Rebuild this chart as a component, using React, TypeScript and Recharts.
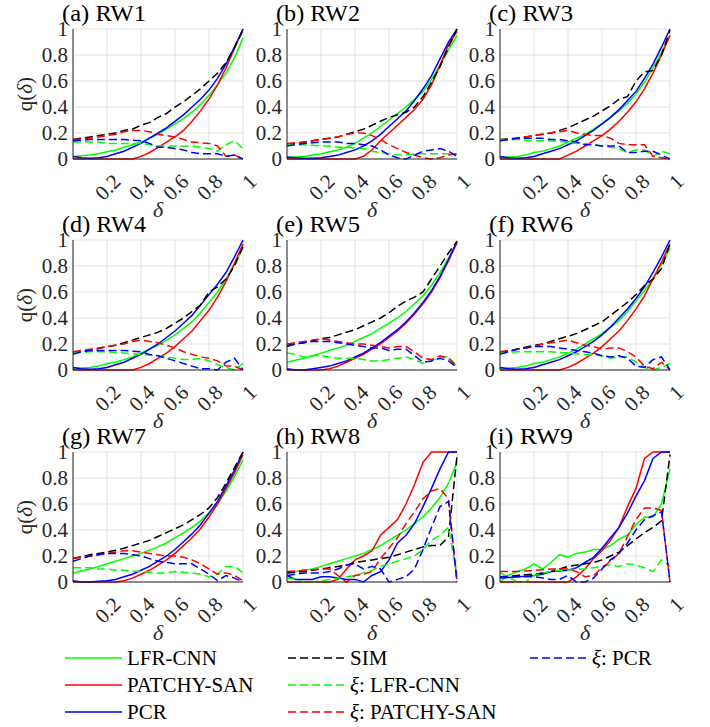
import React from 'react';
import { LineChart, Line, XAxis, YAxis, CartesianGrid } from 'recharts';

const DELTA = [0, 0.05, 0.1, 0.15, 0.2, 0.25, 0.3, 0.35, 0.4, 0.45, 0.5, 0.55, 0.6, 0.65, 0.7, 0.75, 0.8, 0.85, 0.9, 0.95, 1];
const X_TICKS = [0.2, 0.4, 0.6, 0.8, 1];
const Y_TICKS = [0, 0.2, 0.4, 0.6, 0.8, 1];
const PANEL_TITLES = ['(a) RW1', '(b) RW2', '(c) RW3', '(d) RW4', '(e) RW5', '(f) RW6', '(g) RW7', '(h) RW8', '(i) RW9'];

// ---- RW1 ----
const rw1Lfr = [0.02, 0.025, 0.03, 0.04, 0.055, 0.07, 0.09, 0.11, 0.13, 0.16, 0.19, 0.23, 0.27, 0.31, 0.36, 0.42, 0.49, 0.57, 0.66, 0.78, 0.93];
const rw1Patchy = [0, 0, 0, 0, 0, 0, 0, 0, 0.02, 0.05, 0.09, 0.13, 0.17, 0.22, 0.29, 0.37, 0.46, 0.57, 0.7, 0.85, 1.0];
const rw1Pcr = [0.02, 0.01, 0.005, 0.01, 0.02, 0.04, 0.06, 0.09, 0.12, 0.16, 0.2, 0.24, 0.29, 0.34, 0.4, 0.46, 0.53, 0.62, 0.73, 0.86, 1.0];
const rw1Sim = [0.15, 0.16, 0.17, 0.18, 0.19, 0.2, 0.22, 0.23, 0.26, 0.28, 0.32, 0.35, 0.4, 0.44, 0.49, 0.54, 0.6, 0.66, 0.74, 0.86, 0.99];
const rw1XiLfr = [0.13, 0.13, 0.13, 0.13, 0.12, 0.12, 0.12, 0.12, 0.12, 0.11, 0.1, 0.1, 0.1, 0.1, 0.1, 0.09, 0.08, 0.06, 0.11, 0.14, 0.08];
const rw1XiPatchy = [0.15, 0.155, 0.16, 0.17, 0.18, 0.19, 0.21, 0.22, 0.22, 0.21, 0.19, 0.18, 0.17, 0.15, 0.13, 0.125, 0.12, 0.1, 0.02, 0.03, 0.0];
const rw1XiPcr = [0.14, 0.145, 0.15, 0.15, 0.15, 0.15, 0.15, 0.145, 0.14, 0.12, 0.09, 0.09, 0.08, 0.07, 0.05, 0.04, 0.04, 0.04, 0.02, 0.03, 0.0];

// ---- RW2 ----
const rw2Lfr = [0.01, 0.015, 0.02, 0.03, 0.04, 0.055, 0.07, 0.09, 0.12, 0.16, 0.2, 0.25, 0.3, 0.35, 0.4, 0.46, 0.52, 0.61, 0.72, 0.84, 0.95];
const rw2Patchy = [0, 0, 0, 0, 0, 0, 0, 0, 0, 0.02, 0.07, 0.14, 0.2, 0.26, 0.32, 0.38, 0.46, 0.57, 0.72, 0.88, 0.98];
const rw2Pcr = [0.015, 0.01, 0.005, 0.005, 0.01, 0.02, 0.03, 0.05, 0.07, 0.1, 0.14, 0.19, 0.25, 0.31, 0.37, 0.45, 0.54, 0.64, 0.77, 0.9, 1.0];
const rw2Sim = [0.11, 0.12, 0.13, 0.14, 0.15, 0.16, 0.17, 0.19, 0.21, 0.23, 0.26, 0.29, 0.32, 0.34, 0.36, 0.4, 0.48, 0.59, 0.71, 0.86, 1.0];
const rw2XiLfr = [0.11, 0.11, 0.11, 0.105, 0.1, 0.1, 0.09, 0.09, 0.085, 0.08, 0.06, 0.05, 0.04, 0.03, 0.03, 0.04, 0.04, 0.04, 0.04, 0.04, 0.04];
const rw2XiPatchy = [0.12, 0.125, 0.13, 0.14, 0.15, 0.16, 0.17, 0.19, 0.2, 0.2, 0.18, 0.15, 0.11, 0.08, 0.05, 0.03, 0.01, 0.0, 0.01, 0.03, 0.04];
const rw2XiPcr = [0.1, 0.11, 0.12, 0.125, 0.13, 0.13, 0.13, 0.12, 0.12, 0.11, 0.1, 0.07, 0.03, 0.01, 0.0, 0.03, 0.06, 0.07, 0.08, 0.06, 0.02];

// ---- RW3 ----
const rw3Lfr = [0.01, 0.015, 0.02, 0.03, 0.05, 0.06, 0.08, 0.1, 0.13, 0.16, 0.19, 0.23, 0.27, 0.32, 0.37, 0.43, 0.5, 0.59, 0.7, 0.82, 0.95];
const rw3Patchy = [0, 0, 0, 0, 0, 0, 0, 0, 0.03, 0.06, 0.1, 0.14, 0.18, 0.23, 0.29, 0.36, 0.44, 0.54, 0.66, 0.8, 0.95];
const rw3Pcr = [0.02, 0.01, 0.005, 0.01, 0.02, 0.04, 0.06, 0.08, 0.11, 0.14, 0.18, 0.22, 0.27, 0.32, 0.38, 0.45, 0.52, 0.62, 0.73, 0.86, 1.0];
const rw3Sim = [0.15, 0.155, 0.16, 0.17, 0.18, 0.19, 0.2, 0.22, 0.24, 0.27, 0.3, 0.33, 0.37, 0.41, 0.46, 0.48, 0.6, 0.67, 0.68, 0.8, 0.99];
const rw3XiLfr = [0.15, 0.15, 0.15, 0.145, 0.14, 0.14, 0.14, 0.135, 0.13, 0.12, 0.12, 0.11, 0.1, 0.09, 0.08, 0.05, 0.07, 0.07, 0.02, 0.06, 0.04];
const rw3XiPatchy = [0.14, 0.15, 0.16, 0.17, 0.18, 0.19, 0.2, 0.21, 0.22, 0.2, 0.19, 0.18, 0.18, 0.16, 0.12, 0.11, 0.11, 0.11, 0.02, 0.01, 0.0];
const rw3XiPcr = [0.14, 0.15, 0.16, 0.16, 0.16, 0.16, 0.15, 0.15, 0.14, 0.13, 0.11, 0.11, 0.1, 0.1, 0.1, 0.05, 0.05, 0.06, 0.06, 0.03, 0.0];

// ---- RW4 ----
const rw4Lfr = [0.01, 0.015, 0.02, 0.03, 0.05, 0.06, 0.08, 0.1, 0.13, 0.16, 0.19, 0.23, 0.27, 0.32, 0.37, 0.44, 0.52, 0.6, 0.7, 0.81, 0.94];
const rw4Patchy = [0, 0, 0, 0, 0, 0, 0, 0, 0.02, 0.05, 0.09, 0.13, 0.18, 0.24, 0.3, 0.38, 0.46, 0.56, 0.68, 0.82, 0.97];
const rw4Pcr = [0.02, 0.01, 0.005, 0.01, 0.02, 0.04, 0.06, 0.09, 0.12, 0.16, 0.2, 0.25, 0.3, 0.36, 0.42, 0.5, 0.58, 0.66, 0.75, 0.87, 1.0];
const rw4Sim = [0.13, 0.14, 0.15, 0.165, 0.18, 0.19, 0.21, 0.23, 0.25, 0.27, 0.29, 0.32, 0.36, 0.4, 0.45, 0.5, 0.6, 0.64, 0.7, 0.8, 0.95];
const rw4XiLfr = [0.13, 0.135, 0.14, 0.14, 0.14, 0.135, 0.13, 0.125, 0.12, 0.115, 0.11, 0.1, 0.09, 0.08, 0.08, 0.09, 0.07, 0.04, 0.02, 0.0, 0.05];
const rw4XiPatchy = [0.14, 0.15, 0.16, 0.17, 0.18, 0.19, 0.2, 0.22, 0.23, 0.22, 0.21, 0.19, 0.17, 0.14, 0.12, 0.1, 0.09, 0.07, 0.03, 0.03, 0.0];
const rw4XiPcr = [0.12, 0.14, 0.15, 0.15, 0.15, 0.15, 0.15, 0.145, 0.14, 0.12, 0.11, 0.09, 0.07, 0.05, 0.03, 0.01, 0.01, 0.0, 0.06, 0.09, 0.0];

// ---- RW5 ----
const rw5Lfr = [0.06, 0.075, 0.09, 0.11, 0.13, 0.15, 0.17, 0.19, 0.22, 0.25, 0.28, 0.32, 0.36, 0.4, 0.45, 0.51, 0.57, 0.65, 0.75, 0.86, 0.98];
const rw5Patchy = [0, 0, 0, 0, 0, 0.01, 0.03, 0.06, 0.09, 0.12, 0.16, 0.2, 0.25, 0.3, 0.36, 0.43, 0.51, 0.6, 0.71, 0.84, 0.98];
const rw5Pcr = [0.01, 0.0, 0.0, 0.01, 0.02, 0.03, 0.05, 0.07, 0.1, 0.13, 0.17, 0.21, 0.26, 0.31, 0.37, 0.44, 0.52, 0.61, 0.72, 0.85, 0.99];
const rw5Sim = [0.19, 0.2, 0.21, 0.225, 0.24, 0.25, 0.27, 0.29, 0.31, 0.34, 0.37, 0.4, 0.44, 0.49, 0.53, 0.56, 0.6, 0.7, 0.8, 0.9, 0.99];
const rw5XiLfr = [0.13, 0.12, 0.1, 0.11, 0.11, 0.1, 0.09, 0.09, 0.09, 0.08, 0.07, 0.07, 0.08, 0.09, 0.1, 0.08, 0.05, 0.07, 0.1, 0.1, 0.03];
const rw5XiPatchy = [0.2, 0.21, 0.22, 0.23, 0.24, 0.23, 0.22, 0.21, 0.2, 0.2, 0.19, 0.18, 0.17, 0.18, 0.18, 0.14, 0.09, 0.08, 0.11, 0.09, 0.03];
const rw5XiPcr = [0.18, 0.2, 0.21, 0.22, 0.22, 0.22, 0.21, 0.2, 0.19, 0.18, 0.17, 0.17, 0.15, 0.16, 0.16, 0.11, 0.06, 0.07, 0.09, 0.07, 0.02];

// ---- RW6 ----
const rw6Lfr = [0.01, 0.015, 0.02, 0.03, 0.05, 0.06, 0.08, 0.1, 0.13, 0.16, 0.2, 0.24, 0.28, 0.33, 0.38, 0.45, 0.53, 0.61, 0.7, 0.81, 0.94];
const rw6Patchy = [0, 0, 0, 0, 0, 0, 0, 0, 0.02, 0.05, 0.09, 0.13, 0.18, 0.24, 0.3, 0.38, 0.47, 0.57, 0.7, 0.83, 0.97];
const rw6Pcr = [0.02, 0.01, 0.005, 0.01, 0.02, 0.04, 0.06, 0.08, 0.11, 0.14, 0.18, 0.22, 0.27, 0.33, 0.4, 0.47, 0.55, 0.64, 0.75, 0.87, 1.0];
const rw6Sim = [0.13, 0.145, 0.16, 0.175, 0.19, 0.2, 0.22, 0.24, 0.26, 0.28, 0.31, 0.34, 0.37, 0.42, 0.47, 0.52, 0.58, 0.65, 0.7, 0.78, 0.97];
const rw6XiLfr = [0.13, 0.135, 0.14, 0.14, 0.14, 0.14, 0.14, 0.135, 0.13, 0.125, 0.12, 0.115, 0.11, 0.09, 0.1, 0.1, 0.06, 0.02, 0.0, 0.02, 0.05];
const rw6XiPatchy = [0.14, 0.15, 0.16, 0.17, 0.18, 0.2, 0.21, 0.22, 0.23, 0.21, 0.19, 0.18, 0.16, 0.17, 0.17, 0.14, 0.1, 0.03, 0.01, 0.06, 0.0];
const rw6XiPcr = [0.12, 0.14, 0.16, 0.17, 0.18, 0.18, 0.18, 0.17, 0.16, 0.15, 0.14, 0.13, 0.11, 0.1, 0.11, 0.09, 0.03, 0.02, 0.08, 0.1, 0.0];

// ---- RW7 ----
const rw7Lfr = [0.07, 0.085, 0.1, 0.12, 0.14, 0.16, 0.18, 0.2, 0.22, 0.245, 0.27, 0.3, 0.34, 0.38, 0.42, 0.47, 0.53, 0.6, 0.7, 0.81, 0.94];
const rw7Patchy = [0, 0, 0, 0, 0, 0, 0.01, 0.03, 0.06, 0.09, 0.13, 0.17, 0.22, 0.28, 0.34, 0.41, 0.5, 0.6, 0.72, 0.84, 0.98];
const rw7Pcr = [0.01, 0.0, 0.0, 0.005, 0.01, 0.02, 0.04, 0.06, 0.09, 0.12, 0.16, 0.2, 0.25, 0.31, 0.37, 0.44, 0.53, 0.62, 0.74, 0.86, 1.0];
const rw7Sim = [0.18, 0.195, 0.21, 0.22, 0.23, 0.245, 0.26, 0.28, 0.3, 0.32, 0.35, 0.38, 0.41, 0.44, 0.48, 0.52, 0.57, 0.65, 0.76, 0.88, 1.0];
const rw7XiLfr = [0.11, 0.11, 0.11, 0.1, 0.1, 0.09, 0.09, 0.085, 0.08, 0.075, 0.07, 0.07, 0.08, 0.075, 0.07, 0.06, 0.04, 0.06, 0.12, 0.12, 0.07];
const rw7XiPatchy = [0.18, 0.19, 0.2, 0.21, 0.22, 0.23, 0.24, 0.24, 0.23, 0.22, 0.21, 0.2, 0.2, 0.19, 0.17, 0.14, 0.1, 0.06, 0.07, 0.05, 0.01];
const rw7XiPcr = [0.16, 0.18, 0.2, 0.21, 0.22, 0.22, 0.22, 0.21, 0.2, 0.18, 0.16, 0.15, 0.14, 0.14, 0.14, 0.1, 0.06, 0.01, 0.05, 0.03, 0.0];

// ---- RW8 ----
const rw8Lfr = [0.07, 0.08, 0.09, 0.1, 0.12, 0.14, 0.16, 0.18, 0.2, 0.22, 0.25, 0.28, 0.32, 0.36, 0.4, 0.45, 0.5, 0.57, 0.65, 0.76, 0.92];
const rw8Patchy = [0, 0, 0, 0, 0, 0, 0.02, 0.1, 0.17, 0.2, 0.24, 0.36, 0.42, 0.48, 0.6, 0.75, 0.92, 1.0, 1.0, 1.0, 1.0];
const rw8Pcr = [0.05, 0.02, 0.02, 0.02, 0.04, 0.04, 0.03, 0.02, 0.02, 0.0, 0.05, 0.08, 0.17, 0.3, 0.36, 0.45, 0.58, 0.72, 0.87, 1.0, 1.0];
const rw8Sim = [0.07, 0.075, 0.08, 0.09, 0.1, 0.11, 0.12, 0.13, 0.15, 0.16, 0.17, 0.18, 0.19, 0.21, 0.23, 0.25, 0.27, 0.28, 0.28, 0.35, 0.97];
const rw8XiLfr = [0.03, 0.02, 0.0, 0.0, 0.01, 0.02, 0.03, 0.04, 0.05, 0.07, 0.09, 0.12, 0.14, 0.16, 0.18, 0.2, 0.25, 0.32, 0.36, 0.42, 0.05];
const rw8XiPatchy = [0.08, 0.085, 0.09, 0.095, 0.1, 0.1, 0.05, 0.0, 0.05, 0.06, 0.08, 0.18, 0.26, 0.34, 0.45, 0.54, 0.64, 0.7, 0.72, 0.64, 0.0];
const rw8XiPcr = [0.05, 0.06, 0.07, 0.07, 0.07, 0.08, 0.1, 0.13, 0.14, 0.1, 0.12, 0.1, 0.0, 0.02, 0.04, 0.1, 0.25, 0.42, 0.58, 0.62, 0.0];

// ---- RW9 ----
const rw9Lfr = [0.0, 0.05, 0.08, 0.1, 0.14, 0.1, 0.15, 0.21, 0.19, 0.22, 0.23, 0.25, 0.25, 0.28, 0.33, 0.36, 0.44, 0.5, 0.5, 0.6, 0.87];
const rw9Patchy = [0, 0, 0, 0, 0, 0, 0, 0, 0, 0.04, 0.1, 0.18, 0.24, 0.32, 0.42, 0.58, 0.72, 0.95, 1.0, 1.0, 1.0];
const rw9Pcr = [0.03, 0.035, 0.04, 0.045, 0.05, 0.06, 0.08, 0.085, 0.09, 0.11, 0.15, 0.19, 0.26, 0.34, 0.42, 0.53, 0.66, 0.78, 0.95, 1.0, 1.0];
const rw9Sim = [0.04, 0.045, 0.05, 0.055, 0.06, 0.07, 0.08, 0.1, 0.12, 0.13, 0.14, 0.15, 0.17, 0.2, 0.23, 0.28, 0.33, 0.38, 0.42, 0.47, 0.98];
const rw9XiLfr = [0.07, 0.04, 0.0, 0.0, 0.05, 0.07, 0.08, 0.09, 0.09, 0.1, 0.1, 0.11, 0.12, 0.13, 0.12, 0.14, 0.13, 0.11, 0.08, 0.17, 0.12];
const rw9XiPatchy = [0.08, 0.08, 0.08, 0.085, 0.09, 0.095, 0.1, 0.1, 0.1, 0.08, 0.04, 0.05, 0.11, 0.16, 0.22, 0.35, 0.48, 0.57, 0.57, 0.55, 0.0];
const rw9XiPcr = [0.04, 0.04, 0.04, 0.04, 0.04, 0.03, 0.02, 0.02, 0.05, 0.0, 0.0, 0.03, 0.1, 0.17, 0.22, 0.3, 0.4, 0.48, 0.51, 0.54, 0.0];

const PANELS = [
  [rw1Lfr, rw1Patchy, rw1Pcr, rw1Sim, rw1XiLfr, rw1XiPatchy, rw1XiPcr],
  [rw2Lfr, rw2Patchy, rw2Pcr, rw2Sim, rw2XiLfr, rw2XiPatchy, rw2XiPcr],
  [rw3Lfr, rw3Patchy, rw3Pcr, rw3Sim, rw3XiLfr, rw3XiPatchy, rw3XiPcr],
  [rw4Lfr, rw4Patchy, rw4Pcr, rw4Sim, rw4XiLfr, rw4XiPatchy, rw4XiPcr],
  [rw5Lfr, rw5Patchy, rw5Pcr, rw5Sim, rw5XiLfr, rw5XiPatchy, rw5XiPcr],
  [rw6Lfr, rw6Patchy, rw6Pcr, rw6Sim, rw6XiLfr, rw6XiPatchy, rw6XiPcr],
  [rw7Lfr, rw7Patchy, rw7Pcr, rw7Sim, rw7XiLfr, rw7XiPatchy, rw7XiPcr],
  [rw8Lfr, rw8Patchy, rw8Pcr, rw8Sim, rw8XiLfr, rw8XiPatchy, rw8XiPcr],
  [rw9Lfr, rw9Patchy, rw9Pcr, rw9Sim, rw9XiLfr, rw9XiPatchy, rw9XiPcr],
];

const SERIES = [
  { key: 's0', name: 'LFR-CNN', color: '#00ff00', dash: undefined as string | undefined },
  { key: 's1', name: 'PATCHY-SAN', color: '#ff0000', dash: undefined as string | undefined },
  { key: 's2', name: 'PCR', color: '#0000ff', dash: undefined as string | undefined },
  { key: 's3', name: 'SIM', color: '#000000', dash: '8 4' },
  { key: 's4', name: 'ξ: LFR-CNN', color: '#00ff00', dash: '8 4' },
  { key: 's5', name: 'ξ: PATCHY-SAN', color: '#ff0000', dash: '8 4' },
  { key: 's6', name: 'ξ: PCR', color: '#0000ff', dash: '8 4' },
];

const FONT = 'Liberation Serif';
const AXIS_COLOR = '#262626';

// layout (pixel positions of plot areas)
const COL_LEFT = [73, 287, 500];
const ROW_TOP = [29, 240, 452];
const PLOT_W = 170;
const PLOT_H = 130;
const Y_AXIS_W = 60;
const X_AXIS_H = 60;
const M_TOP = 30;
const M_RIGHT = 20;

const fmt = (v: number) => String(Math.round(v * 10) / 10);

const XTick = (props: any) => {
  const { x, y, payload } = props;
  const ax = x + 10;
  const ay = y + 19;
  return (
    <text x={ax} y={ay} textAnchor="end" dominantBaseline="central" fontSize={21} fontFamily={FONT} fill={AXIS_COLOR}
      transform={`rotate(-45 ${ax} ${ay})`}>
      {fmt(payload.value)}
    </text>
  );
};

const YTick = (props: any) => {
  const { x, y, payload } = props;
  return (
    <text x={x - 5} y={y} textAnchor="end" dominantBaseline="central" fontSize={21} fontFamily={FONT} fill={AXIS_COLOR}>
      {fmt(payload.value)}
    </text>
  );
};

function Panel({ idx }: { idx: number }) {
  const series = PANELS[idx];
  const rows = DELTA.map((d, i) => {
    const r: any = { d };
    SERIES.forEach((s, k) => { r[s.key] = series[k][i]; });
    return r;
  });
  const col = idx % 3;
  const row = Math.floor(idx / 3);
  const left = COL_LEFT[col] - Y_AXIS_W;
  const top = ROW_TOP[row] - M_TOP;
  return (
    <div style={{ position: 'absolute', left, top }}>
      <LineChart width={Y_AXIS_W + PLOT_W + M_RIGHT} height={M_TOP + PLOT_H + X_AXIS_H} data={rows}
        margin={{ top: M_TOP, right: M_RIGHT, left: 0, bottom: 0 }}>
        <CartesianGrid stroke="#e3e3e3" strokeWidth={1} />
        <XAxis dataKey="d" type="number" domain={[0, 1]} ticks={X_TICKS} height={X_AXIS_H}
          tickLine={false} tickSize={0} tickMargin={0} axisLine={{ stroke: AXIS_COLOR, strokeWidth: 1 }}
          tick={<XTick />} interval={0} />
        <YAxis type="number" domain={[0, 1]} ticks={Y_TICKS} width={Y_AXIS_W}
          tickLine={false} tickSize={0} tickMargin={0} axisLine={{ stroke: AXIS_COLOR, strokeWidth: 1 }}
          tick={<YTick />} interval={0} />
        {SERIES.map((s) => (
          <Line key={s.key} type="linear" dataKey={s.key} stroke={s.color} strokeWidth={1.5}
            strokeDasharray={s.dash} dot={false} activeDot={false} isAnimationActive={false} />
        ))}
      </LineChart>
    </div>
  );
}

function Overlay() {
  return (
    <svg width={710} height={727} style={{ position: 'absolute', left: 0, top: 0, pointerEvents: 'none' }}>
      {PANEL_TITLES.map((t, i) => {
        const col = i % 3;
        const row = Math.floor(i / 3);
        return (
          <text key={t} x={COL_LEFT[col] - 11} y={ROW_TOP[row] - 8} fontSize={23} fontFamily={FONT} fill="#000"
            textLength={84} lengthAdjust="spacingAndGlyphs">{t}</text>
        );
      })}
      {ROW_TOP.map((rt, r) => (
        <text key={'yl' + r} x={0} y={0} transform={`translate(32 ${rt + PLOT_H / 2}) rotate(-90)`} textAnchor="middle"
          fontSize={21} fontFamily={FONT} fill={AXIS_COLOR}>q(<tspan fontStyle="italic">δ</tspan>)</text>
      ))}
      {ROW_TOP.map((rt, r) => COL_LEFT.map((cl, c) => (
        <text key={'xl' + r + c} x={cl + PLOT_W / 2} y={rt + PLOT_H + 58} textAnchor="middle" fontSize={22}
          fontStyle="italic" fontFamily={FONT} fill={AXIS_COLOR}>δ</text>
      )))}
    </svg>
  );
}

const LEGEND_POS = [
  { x: 65, y: 658 }, { x: 65, y: 685 }, { x: 65, y: 712 },
  { x: 288, y: 658 }, { x: 288, y: 685 }, { x: 288, y: 712 },
  { x: 530, y: 658 },
];

function LegendBox() {
  return (
    <svg width={710} height={727} style={{ position: 'absolute', left: 0, top: 0, pointerEvents: 'none' }}>
      {SERIES.map((s, k) => {
        const p = LEGEND_POS[k];
        return (
          <g key={s.key}>
            <line x1={p.x} x2={p.x + 57} y1={p.y} y2={p.y} stroke={s.color} strokeWidth={1.5} strokeDasharray={s.dash} />
            <text x={p.x + 62} y={p.y} dominantBaseline="central" fontSize={21} fontFamily={FONT} fill="#000">
              {s.name.startsWith('ξ') ? (<><tspan fontStyle="italic">ξ</tspan>{s.name.slice(1)}</>) : s.name}
            </text>
          </g>
        );
      })}
    </svg>
  );
}

export default function App() {
  return (
    <div style={{ position: 'absolute', left: 0, top: 0, width: 710, height: 727, background: '#fff', overflow: 'hidden' }}>
      {PANELS.map((_, i) => <Panel key={i} idx={i} />)}
      <Overlay />
      <LegendBox />
    </div>
  );
}
